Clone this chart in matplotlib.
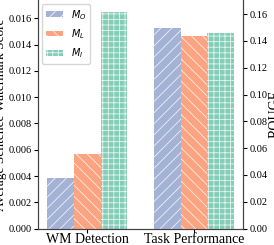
import numpy as np
import matplotlib
matplotlib.use('Agg')
import matplotlib.pyplot as plt

plt.rcParams['font.family'] = 'Liberation Serif'
plt.rcParams['mathtext.fontset'] = 'dejavusans'
plt.rcParams['hatch.color'] = 'white'
plt.rcParams['hatch.linewidth'] = 0.6

groups = ['WM Detection', 'Task Performance']
labels = ['$M_O$', '$M_L$', '$M_I$']
wm_scores = [0.00386, 0.00568, 0.01645]
rouge_scores = [0.1494, 0.1435, 0.1457]
colors = ['#8da0cb', '#fc8d62', '#66c2a5']
hatches = ['///', '\\\\\\', '+++']

fig = plt.figure(figsize=(2.74, 2.45), dpi=100)
ax = fig.add_axes([0.139, 0.067, 0.748, 0.933])
ax2 = ax.twinx()

w = 0.25
x = np.arange(len(groups))
for i in range(3):
    ax.bar(x[0] + (i - 1) * w, wm_scores[i], w, color=colors[i], alpha=0.8,
           hatch=hatches[i], edgecolor='white', linewidth=0, label=labels[i])
    ax2.bar(x[1] + (i - 1) * w, rouge_scores[i], w, color=colors[i], alpha=0.8,
            hatch=hatches[i], edgecolor='white', linewidth=0)

ax.set_xlim(-0.46, 1.46)
ax.set_ylim(0, 0.0174)
ax2.set_ylim(0, 0.1705)
ax.set_xticks(x)
ax.set_xticklabels(groups, fontsize=10)
ax.set_yticks(np.arange(0, 0.0161, 0.002))
ax2.set_yticks(np.arange(0, 0.161, 0.02))
ax.tick_params(axis='y', labelsize=7.5, length=3, pad=1.5)
ax2.tick_params(axis='y', labelsize=7.5, length=3, pad=1.5)
ax.tick_params(axis='x', length=3, pad=0.5)
ax.set_ylabel('Average Sentence Watermark Score', fontsize=9.6, labelpad=1)
ax2.set_ylabel('ROUGE', fontsize=10, labelpad=1)

for a in (ax, ax2):
    a.spines['top'].set_visible(False)
    for s in ('left', 'right', 'bottom'):
        a.spines[s].set_color('#444444')

ax.legend(loc='upper left', fontsize=7, handlelength=1.75, handleheight=0.55,
          handletextpad=0.8, labelspacing=0.55,
          bbox_to_anchor=(0.0, 1.0), borderaxespad=0.4)

fig.savefig('out.png', dpi=100)
